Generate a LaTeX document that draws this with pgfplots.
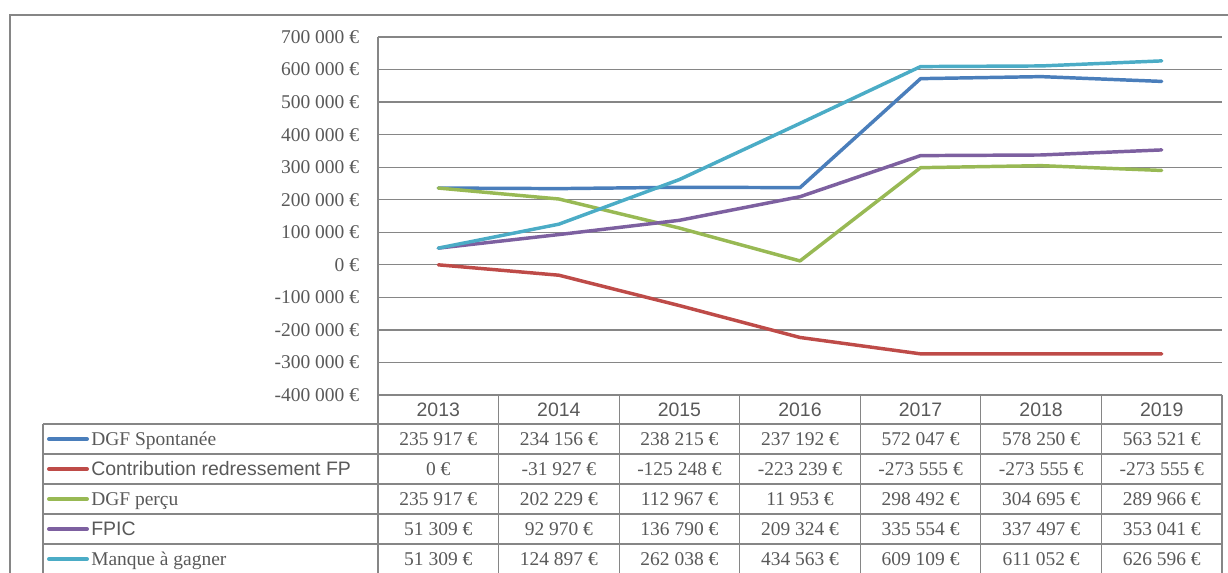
\documentclass[border=0pt]{standalone}
\usepackage{fontspec}
\setmainfont{Liberation Serif}
\newfontfamily\arial{Liberation Sans}
\usepackage{pgfplots}
\pgfplotsset{compat=1.18}
\definecolor{dgfS}{RGB}{74,126,187}
\definecolor{contrib}{RGB}{190,75,72}
\definecolor{dgfP}{RGB}{152,185,84}
\definecolor{fpic}{RGB}{125,96,160}
\definecolor{manque}{RGB}{75,172,198}
\definecolor{gridgray}{RGB}{134,134,134}
\definecolor{txt}{RGB}{89,89,89}
\newcommand\fs{\fontsize{14.6}{17}\selectfont}

\begin{document}
\begin{tikzpicture}
\begin{axis}[
    at={(283.5pt,-296.25pt)}, anchor=south west,
    scale only axis, width=633pt, height=268.5pt,
    xmin=-0.5, xmax=6.5, ymin=-400000, ymax=700000,
    xtick=\empty,
    ytick={-400000,-300000,-200000,-100000,0,100000,200000,300000,400000,500000,600000,700000},
    yticklabels={-400 000 €,-300 000 €,-200 000 €,-100 000 €,0 €,100 000 €,200 000 €,300 000 €,400 000 €,500 000 €,600 000 €,700 000 €},
    scaled y ticks=false,
    ymajorgrids, grid style={gridgray, line width=0.9pt},
    major tick length=0pt,
    axis line style={draw=none},
    yticklabel style={font=\fs, text=txt, inner sep=0pt, xshift=-14pt},
    every axis plot/.append style={line width=2.6pt, line join=round, line cap=round},
]
% DGF Spontanée
\addplot[dgfS] coordinates {(0,235917) (1,234156) (2,238215) (3,237192) (4,572047) (5,578250) (6,563521)};
% Contribution redressement FP
\addplot[contrib] coordinates {(0,0) (1,-31927) (2,-125248) (3,-223239) (4,-273555) (5,-273555) (6,-273555)};
% DGF perçu
\addplot[dgfP] coordinates {(0,235917) (1,202229) (2,112967) (3,11953) (4,298492) (5,304695) (6,289966)};
% FPIC
\addplot[fpic] coordinates {(0,51309) (1,92970) (2,136790) (3,209324) (4,335554) (5,337497) (6,353041)};
% Manque à gagner
\addplot[manque] coordinates {(0,51309) (1,124897) (2,262038) (3,434563) (4,609109) (5,611052) (6,626596)};
\end{axis}

\begin{scope}[x=0.75pt, y=-0.75pt, cell/.style={font=\fs, text=txt, anchor=base, inner sep=0pt}]
  % outer frame
  \draw[gridgray, line width=1pt] (10,590) -- (10,15) -- (1240,15);
  % table grid
  \foreach \k in {0,...,7}
    \draw[gridgray, line width=0.9pt] ({378+120.57*\k},{\k==0 ? 37 : 395}) -- ({378+120.57*\k},590);
  \foreach \r in {424,454,484,514,544}
    \draw[gridgray, line width=0.9pt] (43,\r) -- (1222,\r);
  \draw[gridgray, line width=0.9pt] (43,424) -- (43,590);
  % years
  \foreach \yr [count=\i from 0] in {2013,2014,2015,2016,2017,2018,2019}
    \node[cell, font=\arial\fs] at ({378+120.57*(\i+0.5)},416.5) {\yr};
  % values
  \foreach \v [count=\i from 0] in {235 917 €,234 156 €,238 215 €,237 192 €,572 047 €,578 250 €,563 521 €}
    \node[cell] at ({378+120.57*(\i+0.5)},445.5) {\v};
  \foreach \v [count=\i from 0] in {0 €,-31 927 €,-125 248 €,-223 239 €,-273 555 €,-273 555 €,-273 555 €}
    \node[cell] at ({378+120.57*(\i+0.5)},475.5) {\v};
  \foreach \v [count=\i from 0] in {235 917 €,202 229 €,112 967 €,11 953 €,298 492 €,304 695 €,289 966 €}
    \node[cell] at ({378+120.57*(\i+0.5)},505.5) {\v};
  \foreach \v [count=\i from 0] in {51 309 €,92 970 €,136 790 €,209 324 €,335 554 €,337 497 €,353 041 €}
    \node[cell] at ({378+120.57*(\i+0.5)},535.5) {\v};
  \foreach \v [count=\i from 0] in {51 309 €,124 897 €,262 038 €,434 563 €,609 109 €,611 052 €,626 596 €}
    \node[cell] at ({378+120.57*(\i+0.5)},565.5) {\v};
  % legend keys
  \foreach \c/\y in {dgfS/439,contrib/469,dgfP/499,fpic/529,manque/559}
    \draw[\c, line width=3pt, line cap=round] (49,\y) -- (87,\y);
  \node[cell, anchor=base west] at (91,445.5) {DGF Spontanée};
  \node[cell, anchor=base west, font=\arial\fs] at (91,475.5) {Contribution redressement FP};
  \node[cell, anchor=base west] at (91,505.5) {DGF perçu};
  \node[cell, anchor=base west, font=\arial\fs] at (91,535.5) {FPIC};
  \node[cell, anchor=base west] at (91,565.5) {Manque à gagner};
\end{scope}
\pgfresetboundingbox
\useasboundingbox (0pt,0pt) rectangle (921pt,-429pt);
\end{tikzpicture}
\end{document}
